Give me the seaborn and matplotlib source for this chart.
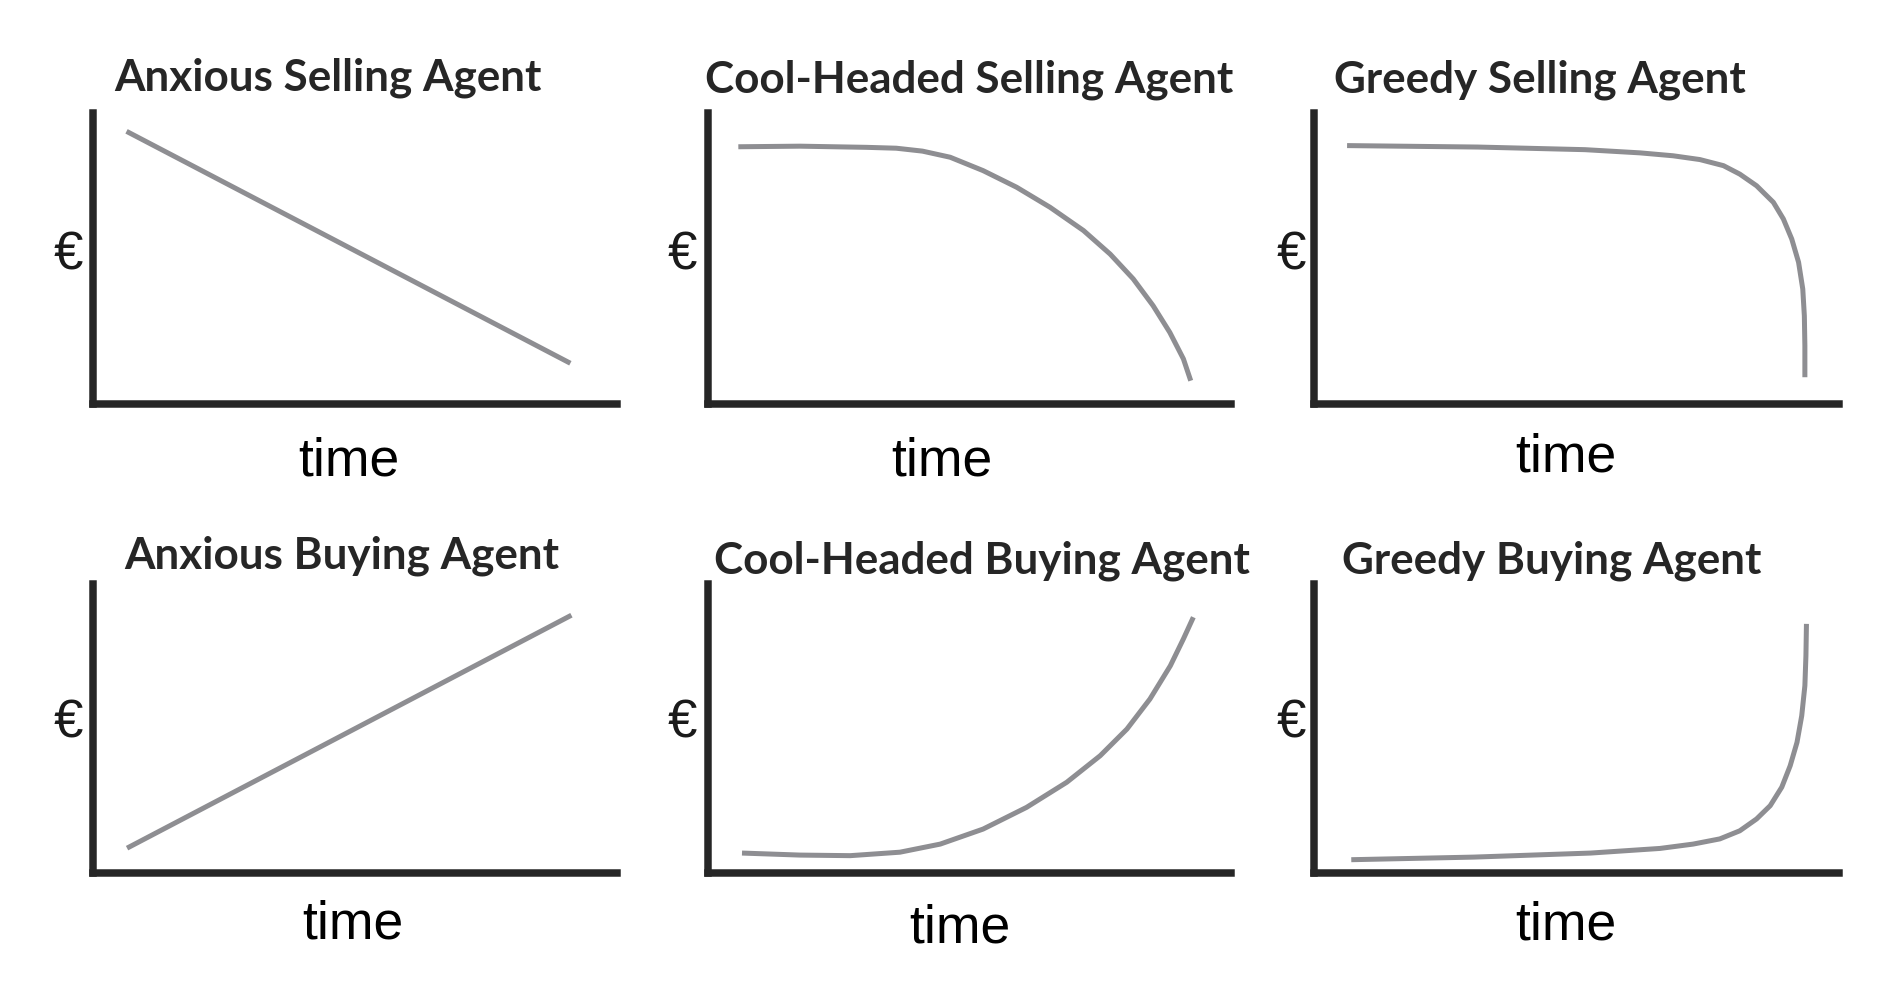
import matplotlib
matplotlib.use("Agg")
import matplotlib.pyplot as plt
import seaborn as sns
import pandas as pd

sns.set_theme(style="white")
plt.rcParams['font.family'] = ['Lato', 'DejaVu Sans']

# Panel titles (row-major: selling row, buying row)
titles = [
    "Anxious Selling Agent", "Cool-Headed Selling Agent", "Greedy Selling Agent",
    "Anxious Buying Agent", "Cool-Headed Buying Agent", "Greedy Buying Agent",
]

# Price over time, both read as % of the axis span
anx_sell_t = [6.4, 91.1]
anx_sell_p = [93.7, 14.0]

cool_sell_t = [5.8, 17.6, 30.3, 36.0, 41.0, 46.3, 52.6, 59.0, 65.4, 71.8, 76.9, 81.3, 85.1, 88.3, 90.9, 92.3]
cool_sell_p = [88.4, 88.6, 88.2, 87.9, 86.9, 84.8, 80.2, 74.5, 67.6, 59.6, 51.5, 43.0, 33.8, 24.6, 15.5, 8.0]

greedy_sell_t = [6.3, 31.2, 51.6, 62.1, 68.4, 73.5, 78.0, 81.1, 84.3, 87.5, 89.4,
                 91.0, 92.3, 93.1, 93.4, 93.5, 93.5]
greedy_sell_p = [88.8, 88.3, 87.4, 86.3, 85.3, 84.0, 81.9, 79.0, 75.0, 69.3, 63.6,
                 56.7, 48.7, 39.5, 30.3, 20.0, 9.2]

anx_buy_t = [6.5, 91.3]
anx_buy_p = [8.6, 89.2]

cool_buy_t = [6.5, 17.6, 27.2, 36.7, 44.4, 52.6, 60.9, 68.6, 75.0, 80.1, 84.5, 88.4, 90.9, 92.8]
cool_buy_p = [6.9, 6.2, 6.0, 7.2, 10.0, 15.2, 22.7, 31.4, 40.6, 49.8, 60.2, 71.7, 81.0, 88.5]

greedy_buy_t = [7.1, 30.4, 52.7, 65.9, 72.2, 77.3, 81.1, 84.3, 86.9, 89.1, 90.7,
                92.0, 92.9, 93.5, 93.7, 93.8]
greedy_buy_p = [4.6, 5.5, 6.9, 8.5, 10.0, 11.8, 14.6, 18.7, 23.3, 29.7, 37.1,
                45.2, 54.4, 64.8, 75.2, 86.2]

series_t = [anx_sell_t, cool_sell_t, greedy_sell_t, anx_buy_t, cool_buy_t, greedy_buy_t]
series_p = [anx_sell_p, cool_sell_p, greedy_sell_p, anx_buy_p, cool_buy_p, greedy_buy_p]

# Layout, in pixels of the 1890x987 canvas
W, H = 1890, 987
col_left = [93, 708, 1314]
col_right = [617, 1231, 1839]
row_top = [114, 585]
row_bottom = [405, 874]
title_xy = [(114, 90), (705, 92), (1334, 92), (124, 569), (714, 574), (1342, 574)]
time_xy = [(349, 476), (942, 476), (1566, 471), (353, 939), (960, 943), (1566, 940)]
euro_xy = [(68, 270), (682, 270), (1291, 270), (68, 738), (682, 738), (1291, 738)]

fig = plt.figure(figsize=(W / 100, H / 100), dpi=100)
fig.patch.set_facecolor("white")

for i in range(6):
    r, c = divmod(i, 3)
    left, right = col_left[c], col_right[c]
    top, bottom = row_top[r], row_bottom[r]
    ax = fig.add_axes([left / W, 1 - bottom / H, (right - left) / W, (bottom - top) / H])
    df = pd.DataFrame({"time": series_t[i], "price": series_p[i]})
    sns.lineplot(data=df, x="time", y="price", ax=ax, color="#8e8e92",
                 linewidth=3.6, sort=False, estimator=None, errorbar=None,
                 solid_capstyle="butt", solid_joinstyle="round")
    ax.set_xlim(0, 100)
    ax.set_ylim(0, 100)
    ax.set_xticks([])
    ax.set_yticks([])
    ax.set_xlabel("")
    ax.set_ylabel("")
    ax.set_facecolor("none")
    for side in ["top", "right"]:
        ax.spines[side].set_visible(False)
    for side in ["left", "bottom"]:
        ax.spines[side].set_color("#262626")
        ax.spines[side].set_linewidth(5.4)
        ax.spines[side].set_capstyle("projecting")

    tx, ty = title_xy[i]
    fig.text(tx / W, 1 - ty / H, titles[i], ha="left", va="baseline",
             fontsize=31.7, fontweight="bold", color="#262626")
    mx, my = time_xy[i]
    fig.text(mx / W, 1 - my / H, "time", ha="center", va="baseline",
             fontsize=38.5, color="black", family=["Liberation Sans", "DejaVu Sans"])
    ex, ey = euro_xy[i]
    fig.text(ex / W, 1 - ey / H, "€", ha="center", va="baseline",
             fontsize=38, color="#1a1a1a", family=["Liberation Sans", "DejaVu Sans"])

fig.savefig("out.png", dpi=100, facecolor="white")
